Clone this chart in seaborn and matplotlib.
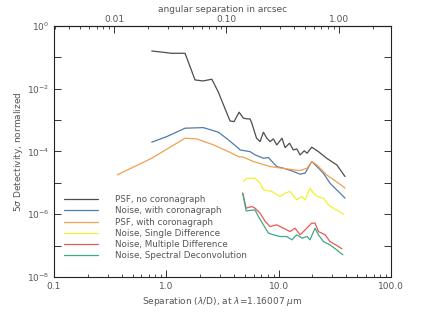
import numpy as np
import pandas as pd
import seaborn as sns
import matplotlib
matplotlib.use("Agg")
import matplotlib.pyplot as plt
from matplotlib.ticker import LogLocator, FixedLocator, FixedFormatter, NullFormatter

# separation in lambda/D and normalized 5-sigma detectivity
psf_x = [0.741, 1.117, 1.467, 1.80, 2.12, 2.54, 2.89, 3.69, 4.01, 4.44, 4.85, 5.20, 5.56,
         5.76, 6.35, 6.83, 7.31, 7.85, 8.38, 8.97, 9.62, 10.7, 11.4, 12.5, 13.5, 14.5,
         15.5, 16.9, 17.9, 19.7, 22.6, 26.7, 32.9, 39.0]
psf_y = [0.160, 0.135, 0.135, 0.0191, 0.0177, 0.0201, 0.0081, 9.4e-4, 8.96e-4, 1.79e-3,
         1.15e-3, 1.10e-3, 1.09e-3, 8.1e-4, 2.65e-4, 2.07e-4, 4.12e-4, 2.65e-4, 2.07e-4,
         2.52e-4, 1.62e-4, 2.65e-4, 1.33e-4, 1.84e-4, 1.12e-4, 1.21e-4, 7.8e-5, 1.05e-4,
         8.8e-5, 1.37e-4, 9.9e-5, 6.1e-5, 3.74e-5, 1.59e-5]

cor_x = [0.741, 1.008, 1.467, 2.13, 2.91, 3.57, 4.38, 4.53, 5.56, 6.16, 7.31, 8.10, 9.62,
         11.0, 13.1, 15.5, 17.2, 19.7, 21.9, 25.0, 28.6, 39.0]
cor_y = [1.98e-4, 2.98e-4, 5.52e-4, 5.77e-4, 4.12e-4, 2.34e-4, 1.27e-4, 1.12e-4, 9.9e-5,
         7.8e-5, 6.1e-5, 6.4e-5, 3.31e-5, 2.94e-5, 2.41e-5, 1.89e-5, 2.04e-5, 4.8e-5,
         3.31e-5, 2.04e-5, 9.8e-6, 3.26e-6]

psfc_x = [0.366, 0.741, 1.467, 1.865, 2.63, 3.57, 4.38, 4.85, 5.95, 8.38, 11.8, 15.5,
          17.9, 19.7, 21.9, 26.7, 34.1, 39.0]
psfc_y = [1.80e-5, 6.1e-5, 2.65e-4, 2.52e-4, 1.62e-4, 9.9e-5, 6.9e-5, 6.6e-5, 4.8e-5,
          3.31e-5, 2.79e-5, 2.46e-5, 2.94e-5, 4.8e-5, 3.74e-5, 1.80e-5, 9.8e-6, 6.8e-6]

sd_x = [4.85, 5.20, 6.16, 6.83, 7.31, 8.70, 10.3, 11.4, 12.6, 14.5, 16.1, 17.2, 19.0,
        20.4, 22.2, 25.0, 27.7, 30.6, 37.8]
sd_y = [1.10e-5, 1.41e-5, 1.41e-5, 9.8e-6, 6.0e-6, 5.3e-6, 3.66e-6, 4.7e-6, 5.3e-6,
        2.88e-6, 3.66e-6, 2.88e-6, 6.8e-6, 4.7e-6, 3.66e-6, 3.26e-6, 1.99e-6, 1.56e-6,
        1.01e-6]

md_x = [4.79, 5.13, 5.76, 6.16, 6.83, 7.60, 8.38, 9.62, 11.0, 12.6, 14.0, 15.5, 17.2,
        19.7, 21.1, 22.6, 25.9, 28.6, 32.9, 36.6]
md_y = [4.7e-6, 1.56e-6, 1.76e-6, 1.56e-6, 1.08e-6, 5.9e-7, 4.06e-7, 4.6e-7, 3.6e-7,
        2.81e-7, 3.6e-7, 2.21e-7, 3.18e-7, 5.2e-7, 5.2e-7, 2.81e-7, 2.21e-7, 1.35e-7,
        1.01e-7, 7.9e-8]

spd_x = [4.79, 5.13, 6.16, 6.59, 7.31, 8.10, 8.97, 10.3, 11.8, 13.1, 14.5, 16.1, 17.9,
         19.0, 21.1, 22.6, 25.0, 28.6, 32.9, 37.3]
spd_y = [4.7e-6, 1.28e-6, 1.38e-6, 8.5e-7, 4.6e-7, 2.50e-7, 2.21e-7, 1.95e-7, 1.95e-7,
         1.53e-7, 2.21e-7, 1.73e-7, 1.95e-7, 1.53e-7, 3.6e-7, 2.21e-7, 1.35e-7, 1.06e-7,
         7.3e-8, 5.1e-8]

labels = ["PSF, no coronagraph", "Noise, with coronagraph", "PSF, with coronagraph",
          "Noise, Single Difference", "Noise, Multiple Difference",
          "Noise, Spectral Deconvolution"]
colors = ["#4d4d4d", "#4f7cab", "#f0a050", "#f2f230", "#e85a52", "#3fa88a"]

ARCSEC_PER_LD = 0.02918  # lambda/D at 1.16 um on an 8.2 m telescope

series = [(psf_x, psf_y), (cor_x, cor_y), (psfc_x, psfc_y),
          (sd_x, sd_y), (md_x, md_y), (spd_x, spd_y)]
df = pd.concat([pd.DataFrame({"sep": x, "det": y, "curve": lab})
                for (x, y), lab in zip(series, labels)], ignore_index=True)

sns.set_theme(style="ticks")
plt.rcParams["font.family"] = ["DejaVu Sans"]
plt.rcParams["text.color"] = "#555555"
plt.rcParams["axes.labelcolor"] = "#555555"
plt.rcParams["xtick.color"] = "#333333"
plt.rcParams["ytick.color"] = "#333333"
plt.rcParams["xtick.labelcolor"] = "#555555"
plt.rcParams["ytick.labelcolor"] = "#555555"

fig = plt.figure(figsize=(4.36, 3.12), dpi=100)
ax = fig.add_axes([0.1239, 0.1122, 0.7729, 0.8045])

sns.lineplot(data=df, x="sep", y="det", hue="curve", palette=dict(zip(labels, colors)),
             hue_order=labels, estimator=None, sort=False, lw=0.9, ax=ax)

ax.set_xscale("log")
ax.set_yscale("log")
ax.set_xlim(0.1, 100)
ax.set_ylim(1e-8, 1)

ax.xaxis.set_major_locator(FixedLocator([0.1, 1, 10, 100]))
ax.xaxis.set_major_formatter(FixedFormatter(["0.1", "1.0", "10.0", "100.0"]))
ax.xaxis.set_minor_locator(LogLocator(base=10, subs=np.arange(2, 10)))
ax.xaxis.set_minor_formatter(NullFormatter())
yt = [10.0 ** k for k in range(-8, 1)]
ax.yaxis.set_major_locator(FixedLocator(yt))
ax.yaxis.set_major_formatter(FixedFormatter(
    [rf"$10^{{{k}}}$" if k % 2 == 0 else "" for k in range(-8, 1)]))
ax.yaxis.set_minor_locator(FixedLocator([]))
ax.tick_params(which="both", direction="in", top=False, right=True, labelsize=6.5)
ax.tick_params(which="major", length=5, width=0.7)
ax.tick_params(which="minor", length=2.5, width=0.6)

top = ax.secondary_xaxis("top", functions=(lambda s: s * ARCSEC_PER_LD,
                                           lambda a: a / ARCSEC_PER_LD))
top.xaxis.set_major_locator(FixedLocator([0.01, 0.1, 1.0]))
top.xaxis.set_major_formatter(FixedFormatter(["0.01", "0.10", "1.00"]))
top.xaxis.set_minor_locator(LogLocator(base=10, subs=np.arange(2, 10)))
top.xaxis.set_minor_formatter(NullFormatter())
top.tick_params(which="both", direction="in", labelsize=6.5, pad=1.5)
top.tick_params(which="major", length=5, width=0.7)
top.tick_params(which="minor", length=2.5, width=0.6)
top.set_xlabel("angular separation in arcsec", fontsize=6.5, labelpad=2)

for sp in ax.spines.values():
    sp.set_linewidth(0.8)
    sp.set_color("#222222")
top.spines["top"].set_linewidth(0.8)

ax.set_xlabel(r"Separation ($\lambda$/D), at $\lambda$=1.16007 $\mu$m", fontsize=6.5, labelpad=3)
ax.set_ylabel(r"5$\sigma$ Detectivity, normalized", fontsize=6.5, labelpad=1)

ax.legend(loc="upper left", bbox_to_anchor=(0.01, 0.35), frameon=False, fontsize=6.3,
          handlelength=3.9, handletextpad=2.0, labelspacing=0.25, borderaxespad=0.3)

fig.savefig("out.png", dpi=100)
